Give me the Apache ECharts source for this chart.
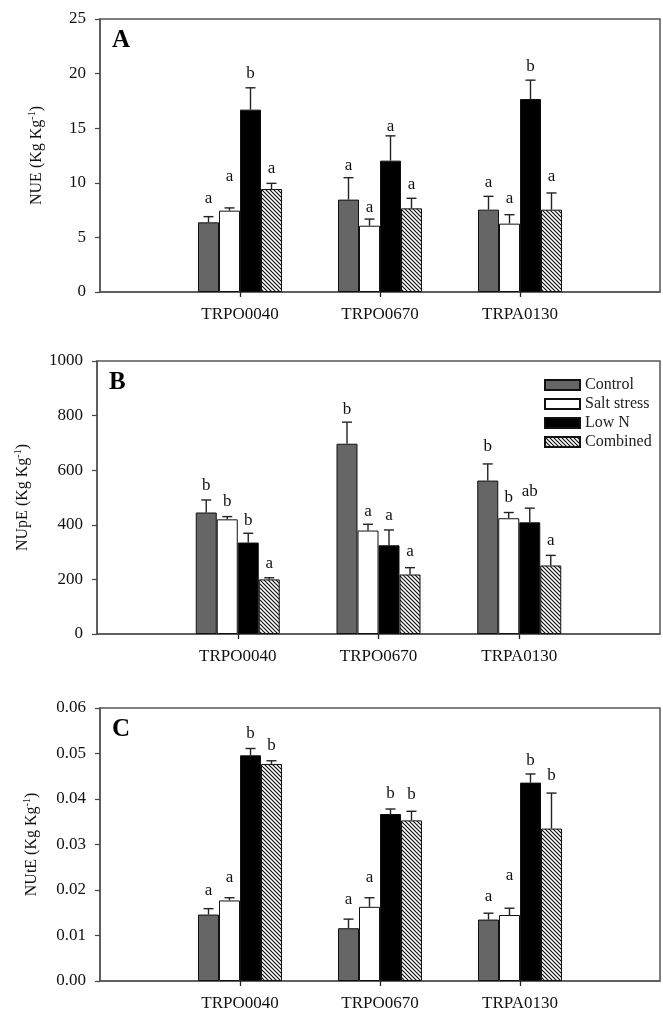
<!DOCTYPE html>
<html><head><meta charset="utf-8">
<script src="https://cdn.jsdelivr.net/npm/echarts@6/dist/echarts.min.js"></script>
<style>html,body{margin:0;padding:0;background:#fff}#c{width:663px;height:1015px}</style>
</head><body><div id="c"></div>
<script>
// ---------- data ----------
const categories = ['TRPO0040', 'TRPO0670', 'TRPA0130'];
const treatments = ['Control', 'Salt stress', 'Low N', 'Combined'];

// Panel A: NUE (rows = treatments, cols = categories)
const nueMean = [[6.38, 8.46, 7.54], [7.45, 6.07, 6.26], [16.7, 12.03, 17.67], [9.43, 7.66, 7.54]];
const nueSE   = [[0.52, 2.01, 1.22], [0.25, 0.61, 0.82], [2.0, 2.27, 1.73], [0.52, 0.92, 1.53]];
const nueLetters = [['a','a','a'], ['a','a','a'], ['b','a','b'], ['a','a','a']];
const nueLetterAt = [[8.15, 11.14, 9.58], [10.13, 7.33, 8.15], [19.6, 14.7, 20.2], [10.9, 9.46, 10.13]];

// Panel B: NUpE
const nupeMean = [[445, 697, 562], [420, 379, 424], [335, 325, 409], [200, 218, 251]];
const nupeSE   = [[46, 79, 61], [10, 23, 21], [34, 56, 52], [6, 25, 37]];
const nupeLetters = [['b','b','b'], ['b','a','b'], ['b','a','ab'], ['a','a','a']];
const nupeLetterAt = [[528, 804, 669], [469, 433, 482], [400, 418, 504], [240, 286, 325]];

// Panel C: NUtE
const nuteMean = [[0.0146, 0.0116, 0.0135], [0.0177, 0.0163, 0.0145], [0.0496, 0.0367, 0.0436], [0.0477, 0.0353, 0.0335]];
const nuteSE   = [[0.0013, 0.0020, 0.0014], [0.0006, 0.0020, 0.0015], [0.0015, 0.0011, 0.0019], [0.0007, 0.0020, 0.0078]];
const nuteLetters = [['a','a','a'], ['a','a','a'], ['b','b','b'], ['b','b','b']];
const nuteLetterAt = [[0.01887, 0.01683, 0.01763], [0.0218, 0.02165, 0.0223], [0.0533, 0.0402, 0.0475], [0.0507, 0.0399, 0.0441]];

// axis ticks
const yTicksA = {min: 0, max: 25, interval: 5};
const yTicksB = {min: 0, max: 1000, interval: 200};
const yTicksC = {min: 0, max: 0.06, interval: 0.01};

// ---------- styling ----------
const SERIF = 'Liberation Serif';
const BAR_W = 21;
const AXIS_COLOR = '#555';

function hatch() {
  const c = document.createElement('canvas');
  c.width = 4; c.height = 4;
  const g = c.getContext('2d');
  g.fillStyle = '#fff'; g.fillRect(0, 0, 4, 4);
  g.strokeStyle = '#111'; g.lineWidth = 1.2;
  g.beginPath();
  g.moveTo(-1, -1); g.lineTo(5, 5);
  g.moveTo(-1, 3); g.lineTo(1, 5);
  g.moveTo(3, -1); g.lineTo(5, 1);
  g.stroke();
  return c;
}
const fills = ['#666666', '#ffffff', '#000000', {image: hatch(), repeat: 'repeat'}];

const xCats = [''].concat(categories, ['']);

const panels = [
  {mean: nueMean, se: nueSE, letters: nueLetters, at: nueLetterAt, ticks: yTicksA, fmt: v => String(v),
   name: '{n|NUE (Kg Kg}{s|-1}{n|)}', gap: 53, grid: {left: 100, top: 19, width: 564, height: 273}, tag: 'A'},
  {mean: nupeMean, se: nupeSE, letters: nupeLetters, at: nupeLetterAt, ticks: yTicksB, fmt: v => String(v),
   name: '{n|NUpE (Kg Kg}{s|-1}{n|)}', gap: 64, grid: {left: 97, top: 361, width: 564, height: 273}, tag: 'B'},
  {mean: nuteMean, se: nuteSE, letters: nuteLetters, at: nuteLetterAt, ticks: yTicksC, fmt: v => v.toFixed(2),
   name: '{n|NUtE (Kg Kg}{s|-1}{n|)}', gap: 58, grid: {left: 100, top: 708, width: 564, height: 273}, tag: 'C'}
];

const grid = [], xAxis = [], yAxis = [], series = [], title = [];
panels.forEach((p, k) => {
  grid.push(Object.assign({show: true, borderColor: AXIS_COLOR, borderWidth: 1.5, backgroundColor: 'transparent'}, p.grid));
  xAxis.push({
    type: 'category', gridIndex: k, data: xCats, boundaryGap: false,
    axisLine: {lineStyle: {color: AXIS_COLOR, width: 1.5}},
    axisTick: {show: true, inside: false, length: 5, interval: i => i >= 1 && i <= 3, lineStyle: {color: '#222', width: 1.3}},
    axisLabel: {interval: 0, margin: 14, fontFamily: SERIF, fontSize: 17, color: '#111'},
    splitLine: {show: false}
  });
  yAxis.push({
    type: 'value', gridIndex: k, min: p.ticks.min, max: p.ticks.max, interval: p.ticks.interval,
    axisLine: {show: true, lineStyle: {color: AXIS_COLOR, width: 1.5}},
    axisTick: {show: true, length: 5, lineStyle: {color: '#444', width: 1.2}},
    axisLabel: {margin: 14, fontFamily: SERIF, fontSize: 17, color: '#111', formatter: p.fmt},
    splitLine: {show: false},
    name: p.name, nameLocation: 'middle', nameGap: p.gap,
    nameTextStyle: {fontFamily: SERIF, fontSize: 16, color: '#111',
      rich: {n: {fontFamily: SERIF, fontSize: 16, color: '#111'},
             s: {fontFamily: SERIF, fontSize: 10, color: '#111', padding: [0, 0, 10, 0]}}}
  });
  treatments.forEach((t, j) => {
    series.push({
      type: 'bar', name: t, xAxisIndex: k, yAxisIndex: k,
      barWidth: BAR_W, barGap: '0%',
      itemStyle: {color: fills[j], borderColor: '#111', borderWidth: 1},
      data: categories.map((c, i) => [c, p.mean[j][i]]),
      silent: true, z: 2
    });
  });
  const errData = [];
  const letterList = [];
  treatments.forEach((t, j) => {
    categories.forEach((c, i) => {
      errData.push([i + 1, p.mean[j][i], p.se[j][i], j, p.at[j][i]]);
      letterList.push(p.letters[j][i]);
    });
  });
  series.push({
    type: 'custom', xAxisIndex: k, yAxisIndex: k, z: 5, silent: true,
    encode: {x: 0, y: 1},
    data: errData,
    renderItem: (params, api) => {
      const ci = api.value(0), m = api.value(1), se = api.value(2), j = api.value(3), ly = api.value(4);
      const p0 = api.coord([ci, m]);
      const p1 = api.coord([ci, m + se]);
      const pl = api.coord([ci, ly]);
      const x = p0[0] + (j - 1.5) * BAR_W;
      const st = {stroke: '#222', lineWidth: 1.4};
      return {type: 'group', children: [
        {type: 'line', shape: {x1: x, y1: p0[1], x2: x, y2: p1[1]}, style: st},
        {type: 'line', shape: {x1: x - 5, y1: p1[1], x2: x + 5, y2: p1[1]}, style: st},
        {type: 'text', x: x, y: pl[1] + 4, style: {text: letterList[params.dataIndex], fontFamily: SERIF,
          fontSize: 17, fill: '#111', align: 'center', verticalAlign: 'bottom'}}
      ]};
    }
  });
  title.push({text: p.tag, left: p.grid.left + 7, top: p.grid.top + 4,
    textStyle: {fontFamily: SERIF, fontWeight: 'bold', fontSize: 25, color: '#000'}});
});

const chart = echarts.init(document.getElementById('c'), null, {renderer: 'canvas'});
chart.setOption({
  animation: false,
  backgroundColor: '#fff',
  title: title,
  grid: grid, xAxis: xAxis, yAxis: yAxis,
  legend: {
    data: treatments, orient: 'vertical', left: 539, top: 372,
    itemWidth: 35, itemHeight: 10, itemGap: 3, icon: 'rect', selectedMode: false,
    textStyle: {fontFamily: SERIF, fontSize: 16, color: '#222'}
  },
  series: series
});
</script></body></html>
